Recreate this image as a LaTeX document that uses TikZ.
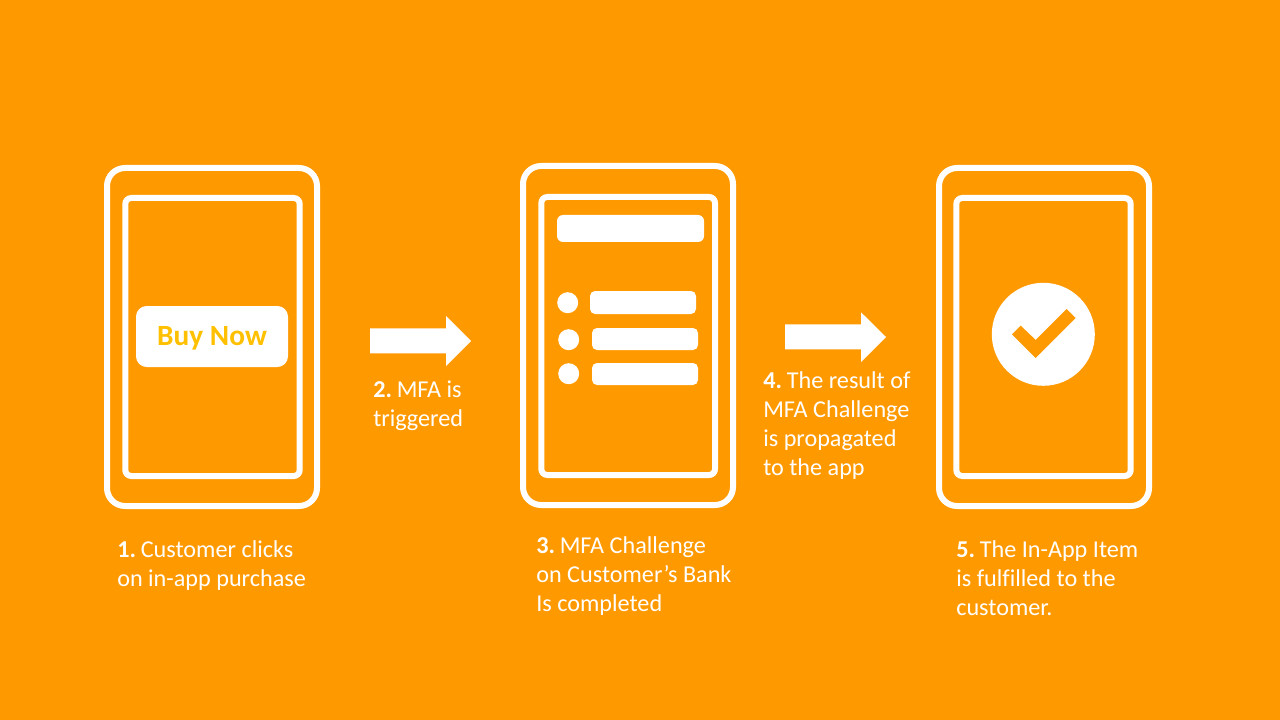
\documentclass[tikz,border=0pt]{standalone}
\usepackage{fontspec}
\setmainfont[Ligatures=NoCommon]{Carlito}
\definecolor{bgorange}{HTML}{FF9900}
\definecolor{buygold}{HTML}{FFC000}
\newcommand{\stepnum}[1]{\textbf{#1}\hspace{3.6pt}}
\tikzset{
  outerframe/.style={draw=white,line width=4.5pt,rounded corners=13.5pt},
  innerframe/.style={draw=white,line width=4.5pt,rounded corners=4.5pt},
  solidbar/.style={fill=white,rounded corners=3.75pt},
  solidarrow/.style={fill=white},
  caption/.style={text=white,font=\fontsize{18.15}{21.75}\selectfont,align=left,inner sep=0pt,anchor=base west}
}
\begin{document}
\begin{tikzpicture}[x=0.75pt,y=-0.75pt]
\useasboundingbox (0,0) rectangle (1280,720);
\fill[bgorange] (0,0) rectangle (1280,720);
% phone 1
\draw[outerframe] (107,168) rectangle (317,506);
\draw[innerframe] (125.3,198) rectangle (299.7,476);
\node[fill=white,rounded corners=8pt,minimum width=114pt,minimum height=45.75pt,inner sep=0pt,text=buygold,font=\fontsize{22}{26}\selectfont\bfseries] (buy) at (212,336.5) {\raisebox{-7pt}[0pt][0pt]{Buy Now}};
% arrow 1
\fill[solidarrow] (370,328.3) -- (446,328.3) -- (446,316) -- (471,341) -- (446,366) -- (446,353.3) -- (370,353.3) -- cycle;
% phone 2
\draw[outerframe] (523,166) rectangle (733,505);
\draw[innerframe] (541.3,197) rectangle (715,475);
\fill[solidbar,rounded corners=4.5pt] (557,215) rectangle (704,242);
\fill[white] (567.7,302.7) circle (10.5);
\fill[white] (568.7,339.7) circle (10.5);
\fill[white] (568.7,373.7) circle (10.5);
\fill[solidbar] (590,291) rectangle (696,314);
\fill[solidbar] (592,328) rectangle (698,350);
\fill[solidbar] (592,363) rectangle (698,385);
% arrow 2
\fill[solidarrow] (785,324.3) -- (861,324.3) -- (861,312.3) -- (886,337) -- (861,362) -- (861,349.3) -- (785,349.3) -- cycle;
% phone 3
\draw[outerframe] (939,168) rectangle (1149,506);
\draw[innerframe] (956.3,198) rectangle (1130.7,476);
\fill[white] (1043.3,334.3) circle (51.5);
\fill[bgorange] (1012,334.3) -- (1020.7,325.7) -- (1035.7,340) -- (1066.7,309) -- (1075.7,318) -- (1035.7,358) -- cycle;
% captions
\node[caption] (c1) at (117,586) {\stepnum{1.}Customer clicks\\on in-app purchase};
\node[caption] (c2) at (373,426) {\stepnum{2.}MFA is\\triggered};
\node[caption] (c3) at (536,611) {\stepnum{3.}MFA Challenge\\on Customer’s Bank\\Is completed};
\node[caption] (c4) at (763,475) {\stepnum{4.}The result of\\MFA Challenge\\is propagated\\to the app};
\node[caption] (c5) at (956,615) {\stepnum{5.}The In-App Item\\is fulfilled to the\\customer.};
\end{tikzpicture}
\end{document}
